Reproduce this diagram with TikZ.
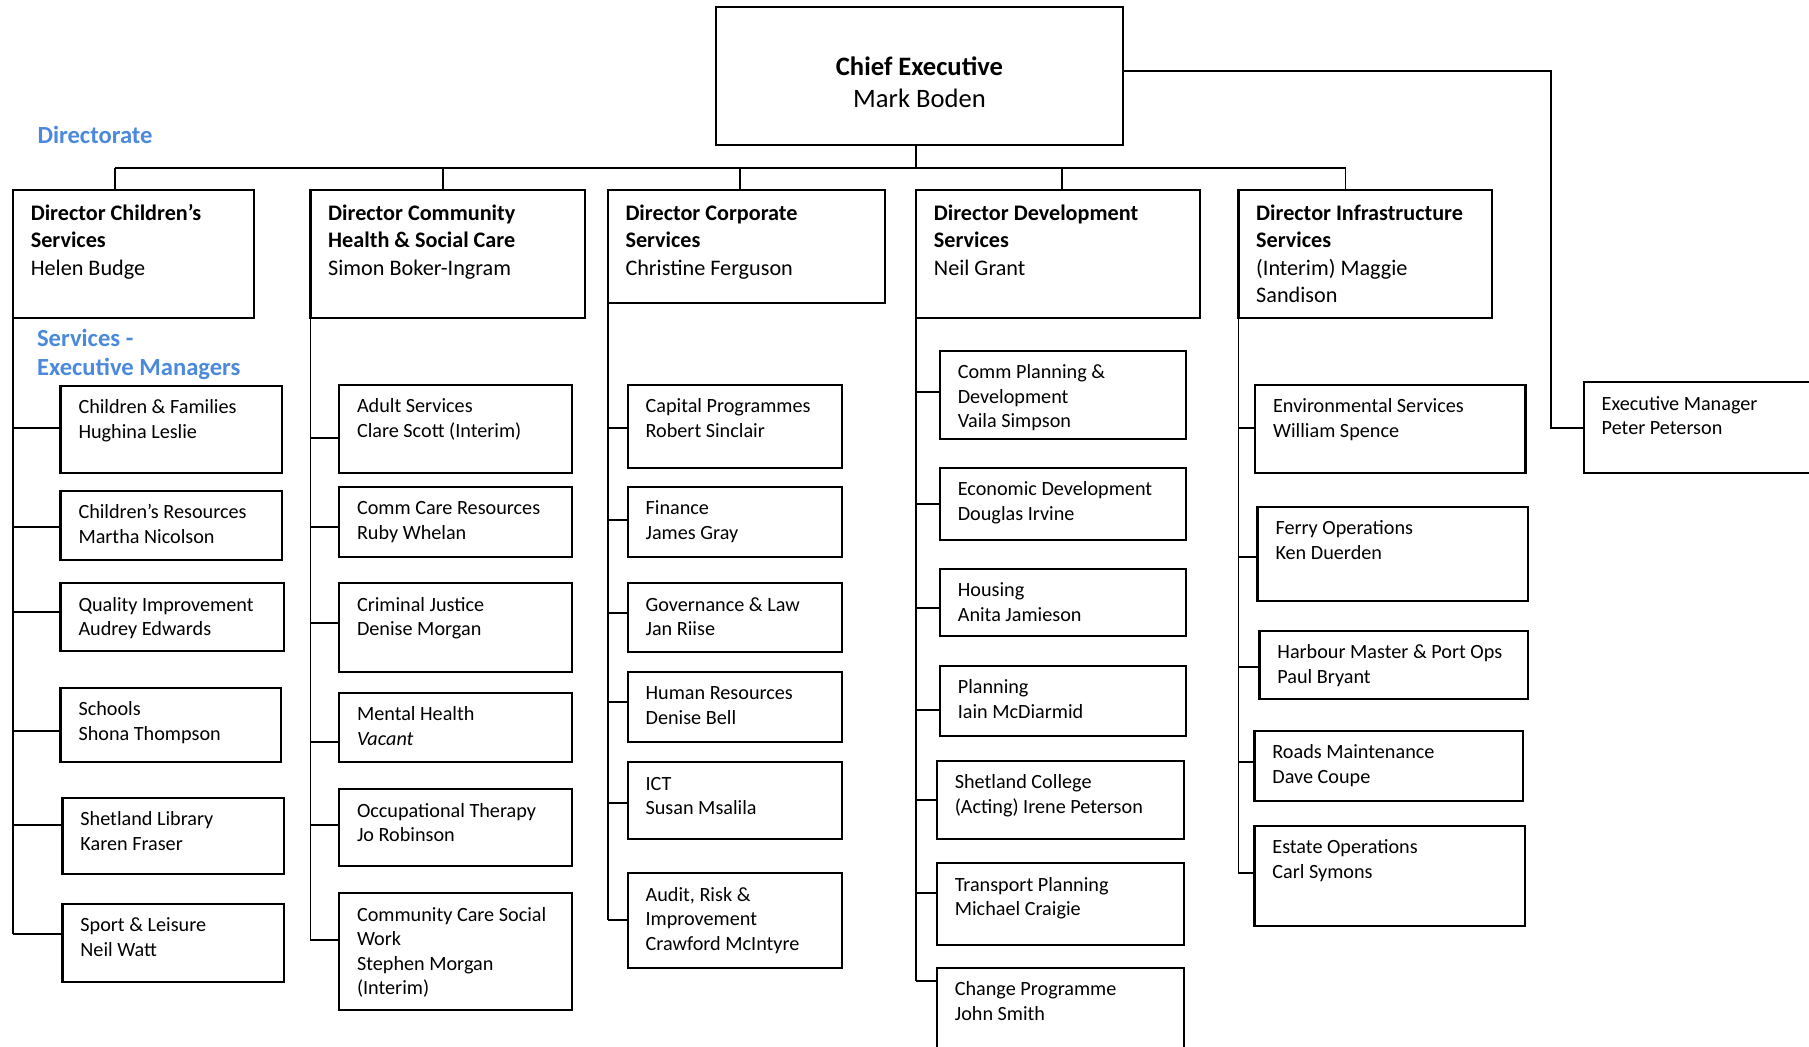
\documentclass[tikz,border=0pt]{standalone}
\usepackage{fontspec}
\setmainfont{Carlito}
\usetikzlibrary{calc}
\definecolor{hdrblue}{RGB}{74,137,220}
\tikzset{
  ubox/.style={draw, line width=1.1pt, inner sep=0pt, outer sep=0pt, rectangle},
  utext/.style={inner sep=0pt, outer sep=0pt, font=\fontsize{10.1pt}{12.3pt}\selectfont},
  dtext/.style={inner sep=0pt, outer sep=0pt, font=\fontsize{11.1pt}{13.75pt}\selectfont},
  ctext/.style={inner sep=0pt, outer sep=0pt, font=\fontsize{13.3pt}{16.15pt}\selectfont},
  btext/.style={inner sep=0pt, outer sep=0pt, text=hdrblue, font=\fontsize{12.3pt}{14.5pt}\selectfont\bfseries},
  link/.style={line width=0.85pt},
}
% name, x1, y1, x2, y2, text
\newcommand\subbox[6]{%
  \node[ubox, anchor=north west, minimum width={(#4-#2)*0.5pt}, minimum height={(#5-#3)*0.5pt}] (#1) at (#2,#3) {};
  \node[utext, anchor=base west] (#1-t) at ($(#1.north west)+(18,27.7)$) {\begin{tabular}[t]{@{}l@{}}#6\end{tabular}};}
\newcommand\dirbox[6]{%
  \node[ubox, anchor=north west, minimum width={(#4-#2)*0.5pt}, minimum height={(#5-#3)*0.5pt}] (#1) at (#2,#3) {};
  \node[dtext, anchor=base west] (#1-t) at ($(#1.north west)+(17.8,30)$) {\begin{tabular}[t]{@{}l@{}}#6\end{tabular}};}
% box name, spine x, y
\newcommand\conn[3]{%
  \coordinate (#1-k) at (#2,#3);
  \draw[link] (#1-k) -- (#1-k -| #1.west);}
\begin{document}
\begin{tikzpicture}[x=0.5pt,y=-0.5pt]
\useasboundingbox (0,0) rectangle (1809,1046);
\clip (0,0) rectangle (1809,1046);

% Chief executive
\node[ubox, anchor=north west, minimum width={407*0.5pt}, minimum height={138*0.5pt}] (ce) at (716,7) {};
\node[ctext, anchor=base] (ce-t) at (919.5,75) {\begin{tabular}[t]{@{}c@{}}\textbf{Chief Executive}\\Mark Boden\end{tabular}};

% headings
\node[btext, anchor=base west] (hd1) at (37.6,143) {Directorate};
\node[btext, anchor=base west] (hd2) at (37.1,346.7) {\begin{tabular}[t]{@{}l@{}}Services -\\Executive Managers\end{tabular}};

% directors
\dirbox{d1}{13}{190}{254}{318.3}{\textbf{Director Children's}\\\textbf{Services}\\Helen Budge}
\dirbox{d2}{310.4}{190}{585}{318.3}{\textbf{Director Community}\\\textbf{Health \& Social Care}\\Simon Boker-Ingram}
\dirbox{d3}{607.7}{190}{885.3}{303.3}{\textbf{Director Corporate}\\\textbf{Services}\\Christine Ferguson}
\dirbox{d4}{916.1}{190}{1199.8}{318.3}{\textbf{Director Development}\\\textbf{Services}\\Neil Grant}
\dirbox{d5}{1238.4}{190}{1492}{318.3}{\textbf{Director Infrastructure}\\\textbf{Services}\\(Interim) Maggie\\Sandison}

% bus
\coordinate (b1) at (114.7,168);
\coordinate (b2) at (442.9,168);
\coordinate (b3) at (740.3,168);
\coordinate (b4) at (1061.8,168);
\coordinate (b5) at (1345.6,168);
\draw[link] (b1) -- (b5);
\draw[link] (ce.south -| 916,0) -- (916,168);
\foreach \i in {1,...,5} {\draw[link] (b\i) -- (b\i |- d\i.north);}

% column 1
\subbox{c11}{60.5}{385.7}{281.7}{472.7}{Children \& Families\\Hughina Leslie}
\subbox{c12}{60.5}{490.7}{281.7}{560}{Children's Resources\\Martha Nicolson}
\subbox{c13}{60.5}{583.3}{284.3}{651}{Quality Improvement\\Audrey Edwards}
\subbox{c14}{60.5}{687.7}{281.3}{762}{Schools\\Shona Thompson}
\subbox{c15}{62.4}{797.7}{284}{874}{Shetland Library\\Karen Fraser}
\subbox{c16}{62.4}{904}{284}{981.7}{Sport \& Leisure\\Neil Watt}
\conn{c11}{13}{427.7}\conn{c12}{13}{527.3}\conn{c13}{13}{611.7}
\conn{c14}{13}{731}\conn{c15}{13}{825}\conn{c16}{13}{934}
\draw[link] (d1.south west) -- (c16-k);

% column 2
\subbox{c21}{339}{385}{572.1}{473.3}{Adult Services\\Clare Scott (Interim)}
\subbox{c22}{339}{486.7}{572.1}{556.7}{Comm Care Resources\\Ruby Whelan}
\subbox{c23}{339}{583.3}{572.1}{671.7}{Criminal Justice\\Denise Morgan}
\subbox{c24}{339}{692.7}{572.1}{762}{Mental Health\\\textit{Vacant}}
\subbox{c25}{339}{789.3}{572.1}{865.7}{Occupational Therapy\\Jo Robinson}
\subbox{c26}{339}{893.3}{572.1}{1010}{Community Care Social\\Work\\Stephen Morgan\\(Interim)}
\conn{c21}{310.4}{438.3}\conn{c22}{310.4}{527.3}\conn{c23}{310.4}{623.3}
\conn{c24}{310.4}{742.3}\conn{c25}{310.4}{825}\conn{c26}{310.4}{940}
\draw[link] (d2.south west) -- (c26-k);

% column 3
\subbox{c31}{627.6}{385}{841.9}{468.3}{Capital Programmes\\Robert Sinclair}
\subbox{c32}{627.6}{486.7}{841.9}{556.7}{Finance\\James Gray}
\subbox{c33}{627.6}{583.3}{841.9}{651.7}{Governance \& Law\\Jan Riise}
\subbox{c34}{627.6}{671.7}{841.9}{742.3}{Human Resources\\Denise Bell}
\subbox{c35}{627.6}{762.3}{841.9}{839}{ICT\\Susan Msalila}
\subbox{c36}{627.6}{873.3}{841.9}{967.7}{Audit, Risk \&\\Improvement\\Crawford McIntyre}
\conn{c31}{607.7}{427.7}\conn{c32}{607.7}{520}\conn{c33}{607.7}{612.7}
\conn{c34}{607.7}{701.7}\conn{c35}{607.7}{803.3}\conn{c36}{607.7}{920}
\draw[link] (d3.south west) -- (c36-k);

% column 4
\subbox{c41}{939.8}{350.7}{1186.3}{439}{Comm Planning \&\\Development\\Vaila Simpson}
\subbox{c42}{939.8}{467.7}{1186.3}{540}{Economic Development\\Douglas Irvine}
\subbox{c43}{939.8}{569}{1186.3}{636}{Housing\\Anita Jamieson}
\subbox{c44}{939.8}{666}{1186.3}{736}{Planning\\Iain McDiarmid}
\subbox{c45}{936.8}{760.7}{1183.6}{839}{Shetland College\\(Acting) Irene Peterson}
\subbox{c46}{936.8}{863.3}{1183.6}{945}{Transport Planning\\Michael Craigie}
\subbox{c47}{936.8}{967.7}{1183.6}{1062}{Change Programme\\John Smith}
\conn{c41}{916.1}{392.3}\conn{c42}{916.1}{504}\conn{c43}{916.1}{607.7}
\conn{c44}{916.1}{710}\conn{c45}{916.1}{800}\conn{c46}{916.1}{893.3}\conn{c47}{916.1}{981}
\draw[link] (d4.south west) -- (c47-k);

% column 5
\subbox{c51}{1255.1}{385}{1525.4}{472.7}{Environmental Services\\William Spence}
\subbox{c52}{1257.5}{506.7}{1528.2}{600.7}{Ferry Operations\\Ken Duerden}
\subbox{c53}{1259.4}{631}{1528.2}{699}{Harbour Master \& Port Ops\\Paul Bryant}
\subbox{c54}{1254.4}{731}{1523.1}{801}{Roads Maintenance\\Dave Coupe}
\subbox{c55}{1254.4}{825.7}{1524.7}{925.7}{Estate Operations\\Carl Symons}
\conn{c51}{1238.4}{427.7}\conn{c52}{1238.4}{556.7}\conn{c53}{1238.4}{666.7}
\conn{c54}{1238.4}{762}\conn{c55}{1238.4}{873.3}
\draw[link] (d5.south west) -- (c55-k);

% executive manager
\subbox{em}{1583.7}{382.3}{1840}{472.7}{Executive Manager\\Peter Peterson}
\coordinate (ceR) at (1123,71.3);
\coordinate (emK) at (1550.7,428.3);
\draw[link] (ceR) -| (emK) -- (emK -| em.west);
\end{tikzpicture}
\end{document}
